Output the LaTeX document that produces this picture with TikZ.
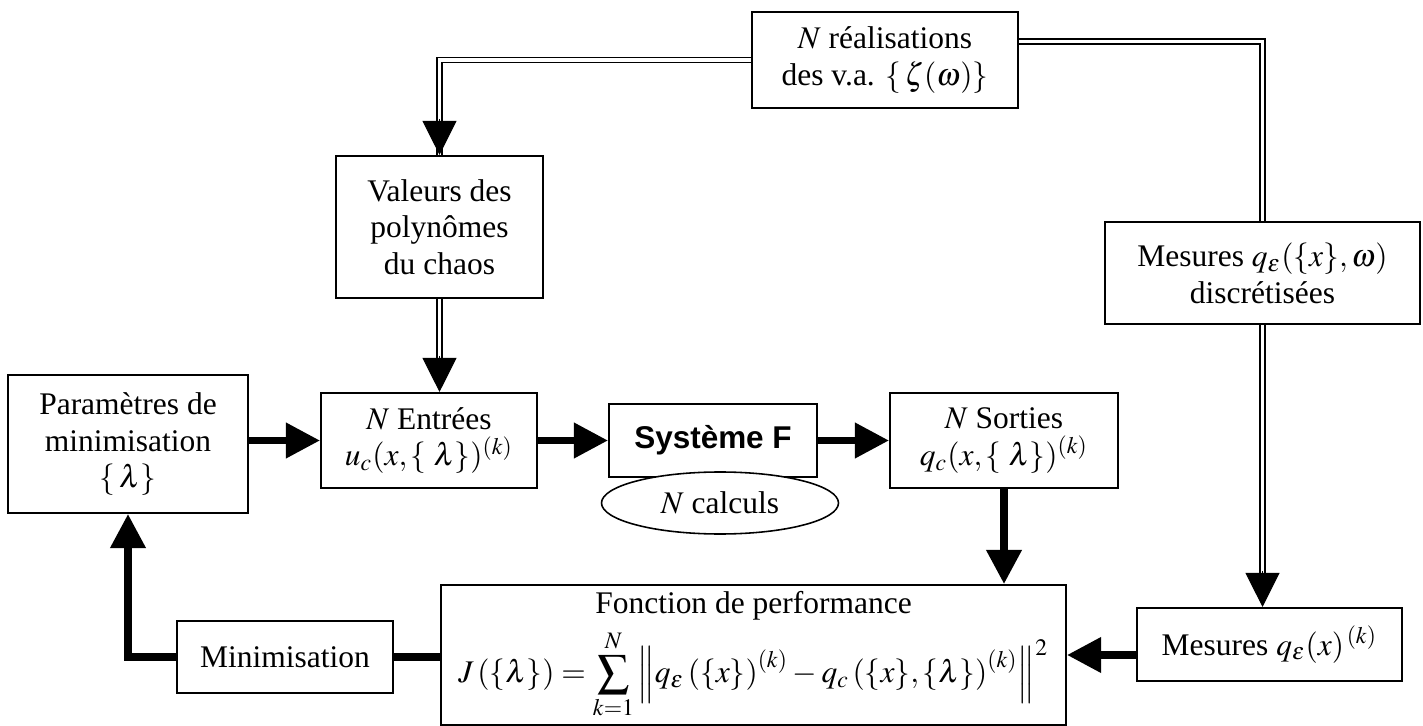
\documentclass[tikz,border=0pt,12pt]{standalone}
\usepackage{amsmath}
\usepackage{mathptmx}
\usepackage{fontspec}
\setmainfont{Liberation Serif}
\newfontfamily\arialbf{Liberation Sans}
\usepackage{tikz}
\usetikzlibrary{
	arrows.meta,
	calc,
	positioning,
	shapes.geometric
}

\begin{document}
\begin{tikzpicture}[x=0.0134cm, y=-0.0134cm,
		box/.style={draw, line width=0.8pt, align=center, inner sep=0pt, font=\fontsize{12}{14}\selectfont},
		dbl/.style={double, double distance=1.3pt, line width=0.6pt},
		fat/.style={line width=2.7pt},
		headtip/.style={-{Triangle[length=13pt, width=13pt]}}]
			\useasboundingbox (0,0) rectangle (1423,726);
			\node[box, minimum width=266*0.0134cm, minimum height=96*0.0134cm] (real) at (885,60) {$N$ réalisations\\des v.a. $\{\,\zeta(\omega)\}$};
			\node[box, minimum width=207*0.0134cm, minimum height=142*0.0134cm] (valeurs) at (439.5,227) {Valeurs des\\polynômes\\du chaos};
			\node[box, minimum width=240*0.0134cm, minimum height=138*0.0134cm] (param) at (128,444) {Paramètres de\\minimisation\\$\{\,\lambda\}$};
			\node[box, minimum width=216*0.0134cm, minimum height=95*0.0134cm] (entrees) at (429,440.5) {$N$ Entrées\\$u_c(x,\{\;\lambda\})^{(k)}$};
			\node[box, minimum width=208*0.0134cm, minimum height=73*0.0134cm] (sys) at (713,440.5) {\arialbf\bfseries Système F};
			\node[box, ellipse, line width=0.6pt, minimum width=237*0.0134cm, minimum height=62*0.0134cm, fill=white] (calc) at (720,503) {$N$ calculs};
			\node[box, minimum width=228*0.0134cm, minimum height=95*0.0134cm] (sorties) at (1004,440.5) {$N$ Sorties\\$q_c(x,\{\;\lambda\})^{(k)}$};
			\node[box, minimum width=315*0.0134cm, minimum height=102*0.0134cm] (mesw) at (1262.5,273) {Mesures $q_\varepsilon(\{x\},\omega)$\\discrétisées};
			\node[box, minimum width=265*0.0134cm, minimum height=73*0.0134cm] (mesk) at (1269.5,644.5) {Mesures $q_\varepsilon(x)^{\,(k)}$};
			\node[box, minimum width=625*0.0134cm, minimum height=140*0.0134cm] (perf) at (753.5,655) {Fonction de performance\\[3pt]
				$J\left(\{\lambda\}\right)=\displaystyle\sum_{k=1}^{N}\left\|q_\varepsilon\left(\{x\}\right)^{(k)}-q_c\left(\{x\},\{\lambda\}\right)^{(k)}\right\|^2$};
			\node[box, minimum width=216*0.0134cm, minimum height=72*0.0134cm] (mini) at (285,657) {Minimisation};
			% double connectors
			\draw[dbl] (real.west) -| (valeurs.north);
			\draw[headtip] ($(valeurs.north)+(0,-36)$) -- (valeurs.north);
			\draw[dbl] ([yshift=7pt]real.east) -| (mesw.north);
			\draw[dbl] (mesw.south) -- ($(mesw.south |- mesk.north)+(0,-34)$);
			\draw[headtip] ($(mesw.south |- mesk.north)+(0,-36)$) -- (mesw.south |- mesk.north);
			\draw[dbl] (valeurs.south) -- ($(valeurs.south |- entrees.north)+(0,-34)$);
			\draw[headtip] ($(valeurs.south |- entrees.north)+(0,-36)$) -- (valeurs.south |- entrees.north);
			% thick connectors
			\draw[fat, headtip] (param.east |- entrees.west) -- (entrees.west);
			\draw[fat, headtip] (entrees.east) -- (sys.west);
			\draw[fat, headtip] (sys.east) -- (sys.east -| sorties.west);
			\draw[fat, headtip] (sorties.south) -- (sorties.south |- perf.north);
			\draw[fat, headtip] (perf.east -| mesk.west) -- (perf.east);
			\draw[fat] (mini.east) -- (mini.east -| perf.west);
			\draw[fat, headtip] (mini.west) -| (param.south);
		\end{tikzpicture}
\end{document}
